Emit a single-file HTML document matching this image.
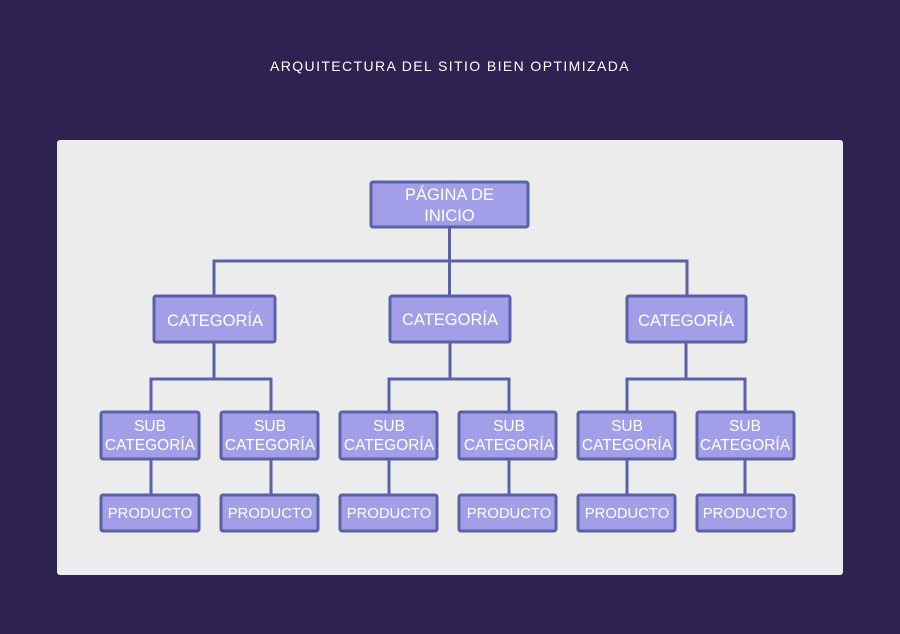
<!DOCTYPE html>
<html><head><meta charset="utf-8"><style>
html,body{margin:0;padding:0;background:#2d2250;}
body{width:900px;height:634px;overflow:hidden;position:relative;font-family:"Liberation Sans",sans-serif;}
</style></head><body>
<svg width="900" height="634" xmlns="http://www.w3.org/2000/svg" style="position:absolute;left:0;top:0">
<rect x="0" y="0" width="900" height="634" fill="#2d2250"/>
<text x="450" y="71" fill="#ffffff" font-size="14" text-anchor="middle" letter-spacing="1.4" font-family="Liberation Sans, sans-serif">ARQUITECTURA DEL SITIO BIEN OPTIMIZADA</text>
<rect x="57" y="140" width="786" height="435" rx="3" fill="#ececec"/>
<g stroke="#5a62a6" stroke-width="3" fill="none">
<path d="M449.5 227V261M214 295V261H687V295M449.5 261V295"/>
<path d="M214 342V379M151 411V379H271V411"/>
<path d="M450 342V379M389 411V379H509V411"/>
<path d="M686 342V379M627 411V379H745V411"/>
<path d="M151 459V494M271 459V494M389 459V494M509 459V494M627 459V494M745 459V494"/>
</g>
<g fill="#a39ee8" stroke="#5a62a6" stroke-width="3">
<rect x="371" y="182" width="157" height="45" rx="2"/>
<rect x="154" y="296" width="121" height="46" rx="2"/>
<rect x="390" y="296" width="120" height="46" rx="2"/>
<rect x="627" y="296" width="119" height="46" rx="2"/>
<rect x="101" y="412" width="98" height="47" rx="2"/>
<rect x="221" y="412" width="97" height="47" rx="2"/>
<rect x="340" y="412" width="97" height="47" rx="2"/>
<rect x="459" y="412" width="97" height="47" rx="2"/>
<rect x="578" y="412" width="97" height="47" rx="2"/>
<rect x="697" y="412" width="97" height="47" rx="2"/>
<rect x="101" y="495" width="98" height="36" rx="2"/>
<rect x="221" y="495" width="97" height="36" rx="2"/>
<rect x="340" y="495" width="97" height="36" rx="2"/>
<rect x="459" y="495" width="97" height="36" rx="2"/>
<rect x="578" y="495" width="97" height="36" rx="2"/>
<rect x="697" y="495" width="97" height="36" rx="2"/>
</g>
<g fill="#ffffff" font-family="Liberation Sans, sans-serif" text-anchor="middle" font-size="16.5">
<text x="449.5" y="200">PÁGINA DE</text>
<text x="449.5" y="221">INICIO</text>
<text x="215" y="326">CATEGORÍA</text>
<text x="450" y="325">CATEGORÍA</text>
<text x="686" y="326">CATEGORÍA</text>
</g>
<g fill="#ffffff" font-family="Liberation Sans, sans-serif" text-anchor="middle" font-size="15.5">
<text x="150" y="431">SUB</text><text x="150" y="450">CATEGORÍA</text>
<text x="270" y="431">SUB</text><text x="270" y="450">CATEGORÍA</text>
<text x="389" y="431">SUB</text><text x="389" y="450">CATEGORÍA</text>
<text x="509" y="431">SUB</text><text x="509" y="450">CATEGORÍA</text>
<text x="627" y="431">SUB</text><text x="627" y="450">CATEGORÍA</text>
<text x="745" y="431">SUB</text><text x="745" y="450">CATEGORÍA</text>
</g>
<g fill="#ffffff" font-family="Liberation Sans, sans-serif" text-anchor="middle" font-size="14.8">
<text x="150" y="518">PRODUCTO</text>
<text x="270" y="518">PRODUCTO</text>
<text x="389" y="518">PRODUCTO</text>
<text x="509" y="518">PRODUCTO</text>
<text x="627" y="518">PRODUCTO</text>
<text x="745" y="518">PRODUCTO</text>
</g>
</svg>
</body></html>
